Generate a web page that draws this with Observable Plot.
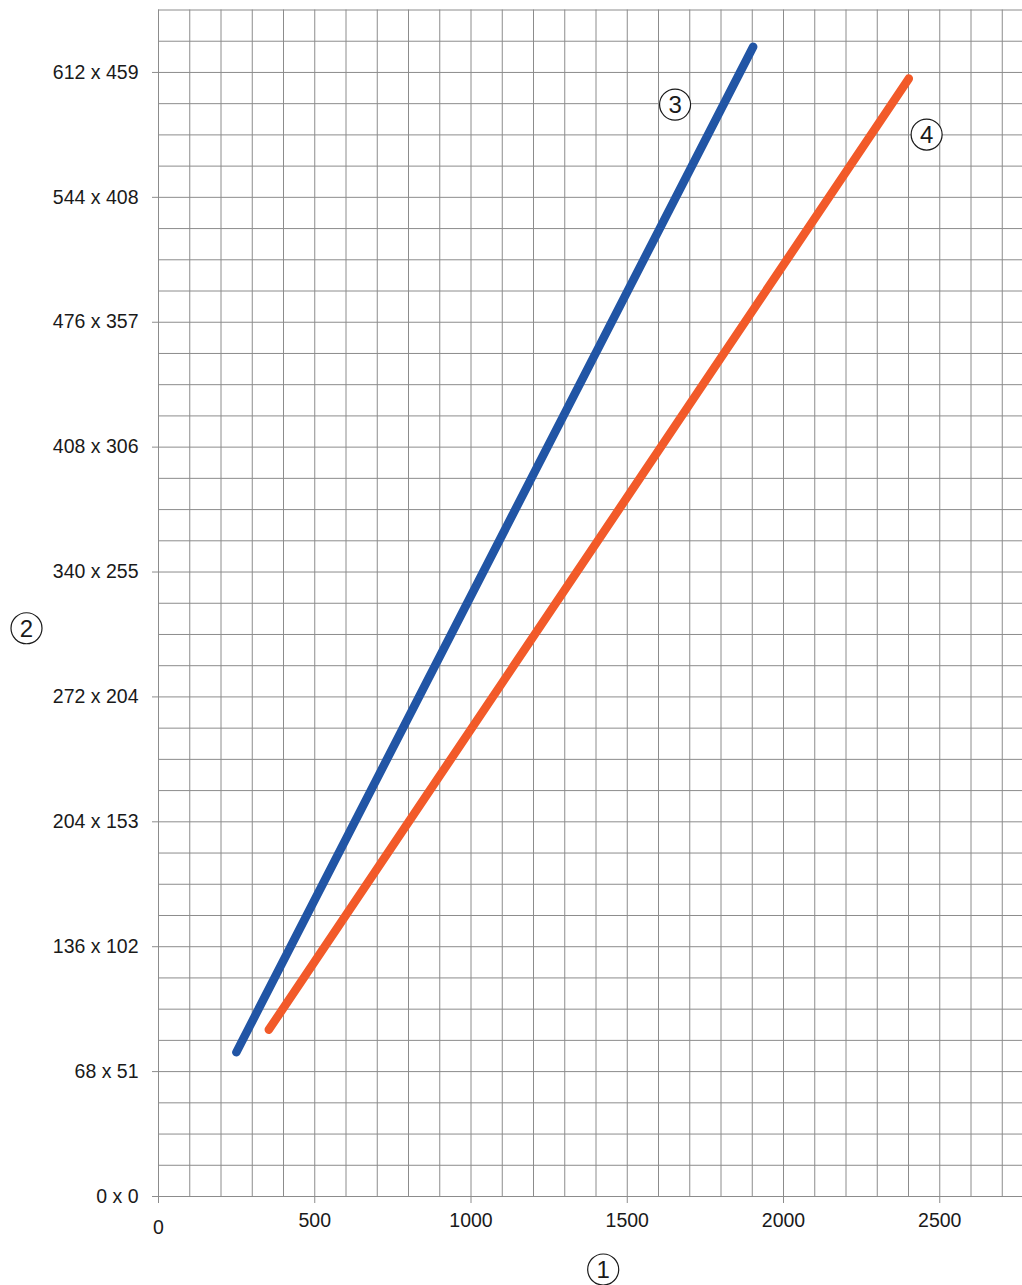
<!DOCTYPE html>
<html><head><meta charset="utf-8">
<script src="https://cdn.jsdelivr.net/npm/d3@7"></script>
<script src="https://cdn.jsdelivr.net/npm/@observablehq/plot@0.6"></script>
<style>body{margin:0;background:#fff} svg{display:block}</style>
</head><body><div id="chart"></div>
<script>
// Series (x: axis ①, y: image width on axis ②)
const blueX = [249, 1903];
const blueY = [78.5, 626];
const orangeX = [353, 2401];
const orangeY = [90.8, 608.7];

// Axis ticks and labels
const xTicks = [500, 1000, 1500, 2000, 2500];
const xTickLabels = ["500", "1000", "1500", "2000", "2500"];
const yTicks = [0, 68, 136, 204, 272, 340, 408, 476, 544, 612];
const yTickLabels = ["0 x 0", "68 x 51", "136 x 102", "204 x 153", "272 x 204", "340 x 255", "408 x 306", "476 x 357", "544 x 408", "612 x 459"];
const xGrid = d3.range(0, 2701, 100);
const yGrid = d3.range(0, 647, 17);

// Series callouts
const calloutLabels = ["3", "4"];
const calloutX = [1653, 2458];
const calloutY = [594.5, 578.2];

const blue = blueX.map((x, i) => ({x, y: blueY[i]}));
const orange = orangeX.map((x, i) => ({x, y: orangeY[i]}));
const callouts = calloutLabels.map((t, i) => ({t, x: calloutX[i], y: calloutY[i]}));
const yLabelMap = new Map(yTicks.map((v, i) => [v, yTickLabels[i]]));
const xLabelMap = new Map(xTicks.map((v, i) => [v, xTickLabels[i]]));

const font = "Liberation Sans, Arial, Helvetica, sans-serif";
const gridColor = "#8c8c8c";

const chart = Plot.plot({
  width: 1022,
  height: 1285,
  marginLeft: 158,
  marginRight: 0,
  marginTop: 9.5,
  marginBottom: 89,
  style: {fontFamily: font, fontSize: "19px", color: "#1a1a1a", background: "#fff", overflow: "visible"},
  x: {domain: [0, 2764.8], axis: null},
  y: {domain: [0, 646], axis: null},
  marks: [
    Plot.ruleX(xGrid, {x: d => d, stroke: gridColor, strokeWidth: 1, strokeOpacity: 1}),
    Plot.ruleY(yGrid, {y: d => d, stroke: gridColor, strokeWidth: 1, strokeOpacity: 1}),
    Plot.axisY({ticks: yTicks, tickFormat: d => yLabelMap.get(d), tickSize: 6, tickPadding: 14, stroke: gridColor, fontSize: 19.5, label: null}),
    Plot.axisX({ticks: [0, ...xTicks], tickFormat: d => xLabelMap.get(d) ?? "", tickSize: 7, tickPadding: 10, stroke: gridColor, fontSize: 19.5, label: null}),
    Plot.text([0], {x: d => d, frameAnchor: "bottom", dy: 31, text: () => "0", fontSize: 19.5, fill: "#1a1a1a", lineAnchor: "middle"}),
    Plot.line(blue, {x: "x", y: "y", stroke: "#2155a5", strokeWidth: 8.5, strokeLinecap: "round"}),
    Plot.line(orange, {x: "x", y: "y", stroke: "#f25a29", strokeWidth: 8.5, strokeLinecap: "round"}),
    Plot.dot(callouts, {x: "x", y: "y", r: 15.5, fill: "white", stroke: "#1a1a1a", strokeWidth: 1.2}),
    Plot.text(callouts, {x: "x", y: "y", text: "t", fontSize: 24, fill: "#1a1a1a", dy: 1}),
    // axis title ② (left) and ① (bottom)
    Plot.dot([0], {frameAnchor: "left", dx: -132, dy: 25, r: 15.5, fill: "white", stroke: "#1a1a1a", strokeWidth: 1.2}),
    Plot.text(["2"], {frameAnchor: "left", dx: -132, dy: 26, text: d => d, fontSize: 24, fill: "#1a1a1a", textAnchor: "middle", lineAnchor: "middle"}),
    Plot.dot([0], {frameAnchor: "bottom", dx: 12.7, dy: 73, r: 15.5, fill: "white", stroke: "#1a1a1a", strokeWidth: 1.2}),
    Plot.text(["1"], {frameAnchor: "bottom", dx: 12.7, dy: 74, text: d => d, fontSize: 24, fill: "#1a1a1a", textAnchor: "middle", lineAnchor: "middle"})
  ]
});
document.getElementById("chart").append(chart);
</script>
</body></html>
